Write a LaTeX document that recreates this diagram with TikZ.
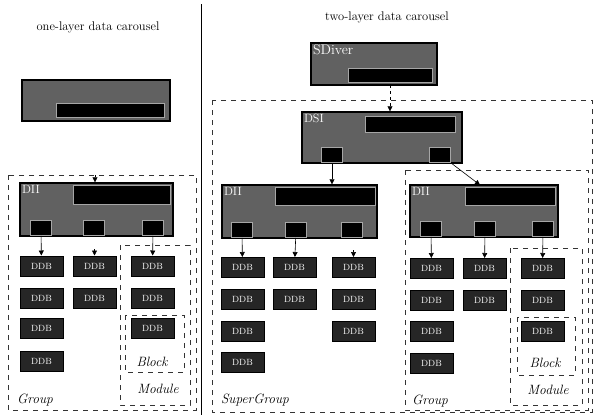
\documentclass[tikz,border=0pt]{standalone}
\usepackage{tikz}
\usetikzlibrary{arrows.meta}

\tikzset{
  bigbox/.style={draw=black, fill=black!62, line width=1.4pt, inner sep=0pt},
  info/.style={draw=black!35, fill=black, line width=0.8pt, inner sep=0pt},
  port/.style={draw=black!35, fill=black, line width=0.8pt, inner sep=0pt, minimum width=21pt, minimum height=15pt},
  ddb/.style={draw=black, fill=black!85, line width=1pt, inner sep=0pt, minimum width=43pt, minimum height=20pt, text=white, font=\fontsize{9}{10}\selectfont},
  boxname/.style={anchor=north west, text=white, inner sep=2.5pt, font=\fontsize{12}{13}\selectfont},
  frame/.style={black!80, dash pattern=on 5pt off 5pt, line width=0.6pt},
  tag/.style={font=\fontsize{13.5}{15}\selectfont\itshape, inner sep=1pt},
  heading/.style={font=\fontsize{12.5}{14}\selectfont},
  arr/.style={-{Triangle[width=5pt,length=5pt]}, line width=0.6pt}
}

\begin{document}
\begin{tikzpicture}[x=1pt, y=-1pt]
\useasboundingbox (0,0) rectangle (597,415);
\draw[line width=0.9pt] (201,4) -- (201,415);

\node[heading] (title1) at (98,27) {one-layer data carousel};
\node[heading] (title2) at (387,17) {two-layer data carousel};

\node[bigbox, minimum width=148pt, minimum height=41pt] (top1) at (96,100.5) {};
\node[info, minimum width=108pt, minimum height=14pt] (top1i) at (110,110.5) {};

\draw[frame] (8,175) rectangle (196,410);
\draw[frame] (120,245) rectangle (190,405);
\draw[frame] (125,315) rectangle (184,372);
\node[tag] (grp1) at (35,400) {Group};
\node[tag] (mod1) at (158,389) {Module};
\node[tag] (blk1) at (152,362) {Block};

\node[bigbox, minimum width=153pt, minimum height=53pt] (dii1) at (96.5,209.5) {};
\node[boxname] (dii1n) at (dii1.north west) {DII};
\node[info, minimum width=97pt, minimum height=19pt] (dii1i) at (121.5,194.5) {};
\node[port] (p11) at (41,228) {};
\node[port] (p12) at (94,228) {};
\node[port] (p13) at (153,228) {};
\coordinate (in1) at (95,175);
\draw[arr] (in1) -- (in1 |- dii1.north);

\foreach \c/\x/\n in {1/41.5/4, 2/94.5/2, 3/152.5/3}
  \foreach \r/\y in {1/266, 2/298, 3/328, 4/361}
    {\ifnum\r>\n\else \node[ddb] (a\c\r) at (\x,\y) {DDB};\fi}

\draw[arr] (p11) -- (a11);
\draw[arr] (p13) -- (a31);
\coordinate (in2) at (94.5,249);
\draw[arr] (in2) -- (a21);

\draw[frame] (212,100) rectangle (592,412);
\draw[frame] (405,170) rectangle (588,410);
\draw[frame] (510,248) rectangle (582,405);
\draw[frame] (517,317) rectangle (575,375);
\node[tag] (sgrp) at (255,400) {SuperGroup};
\node[tag] (grp2) at (430,401) {Group};
\node[tag] (mod2) at (548,390) {Module};
\node[tag] (blk2) at (545,363) {Block};

\node[bigbox, minimum width=126pt, minimum height=42pt] (sdiver) at (374,64) {};
\node[boxname, font=\fontsize{14}{15}\selectfont] (sdivern) at (sdiver.north west) {SDiver};
\node[info, minimum width=84pt, minimum height=14pt] (sdiveri) at (390,75) {};

\node[bigbox, minimum width=160pt, minimum height=51pt] (dsi) at (382,137.5) {};
\node[boxname] (dsin) at (dsi.north west) {DSI};
\node[info, minimum width=90pt, minimum height=16pt] (dsii) at (410,124) {};
\node[port] (q1) at (332,155) {};
\node[port] (q2) at (440,155) {};
\coordinate (s0) at (390,85);
\draw[arr, dashed] (s0) -- (s0 |- dsi.north);

\node[bigbox, minimum width=155pt, minimum height=53pt] (dii2) at (299.5,211.5) {};
\node[boxname] (dii2n) at (dii2.north west) {DII};
\node[info, minimum width=100pt, minimum height=18pt] (dii2i) at (325,196) {};
\node[port] (p21) at (242,230) {};
\node[port] (p22) at (296,230) {};
\node[port] (p23) at (352,230) {};

\node[bigbox, minimum width=148pt, minimum height=52pt] (dii3) at (484,211) {};
\node[boxname] (dii3n) at (dii3.north west) {DII};
\node[info, minimum width=90pt, minimum height=18pt] (dii3i) at (510,196) {};
\node[port] (p31) at (431,229) {};
\node[port] (p32) at (485,229) {};
\node[port] (p33) at (543,229) {};

\draw[arr] (q1) -- (q1 |- dii2.north);
\coordinate (d3) at (480,185);
\draw[arr] (q2.south east) -- (d3);

\foreach \c/\x/\n in {1/242.5/4, 2/294.5/2, 3/353.5/3}
  \foreach \r/\y in {1/267.5, 2/299, 3/331, 4/362.5}
    {\ifnum\r>\n\else \node[ddb] (b\c\r) at (\x,\y) {DDB};\fi}

\foreach \c/\x/\n in {1/431.5/4, 2/484.5/2, 3/542.5/3}
  \foreach \r/\y in {1/268.5, 2/300, 3/331.5, 4/363}
    {\ifnum\r>\n\else \node[ddb] (c\c\r) at (\x,\y) {DDB};\fi}

\draw[arr] (p21) -- (b11);
\draw[arr] (p22) -- (b21);
\coordinate (in3) at (353.5,250);
\draw[arr] (in3) -- (b31);
\draw[arr] (p31) -- (c11);
\draw[arr] (p32) -- (c21);
\draw[arr] (p33) -- (c31);
\end{tikzpicture}
\end{document}
